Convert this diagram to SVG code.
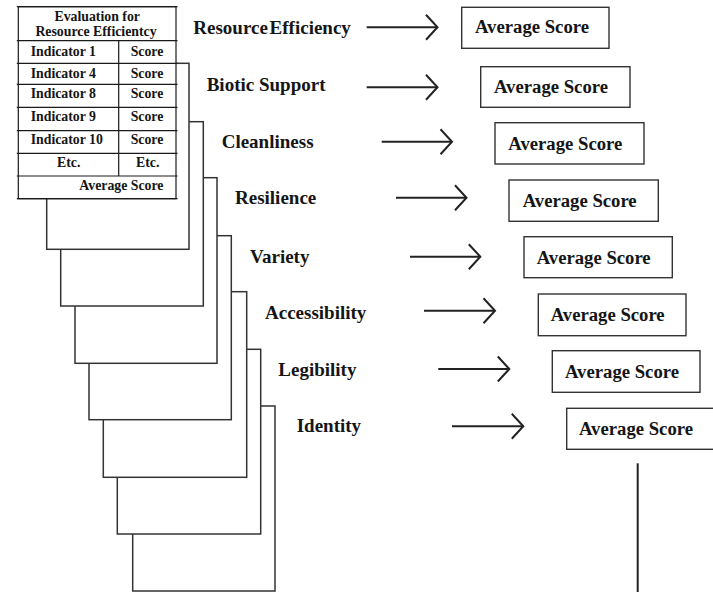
<svg xmlns="http://www.w3.org/2000/svg" width="713" height="592" viewBox="0 0 713 592">
  <style>
    text { font-family: "Liberation Serif", "Times New Roman", serif; font-weight: bold; fill: #151515; }
    .lbl { font-size: 19px; }
    .box-t { font-size: 18.7px; }
    .tt { font-size: 13.8px; }
    .page { fill: #ffffff; stroke: #333333; stroke-width: 1.5; }
    .box { fill: #ffffff; stroke: #333333; stroke-width: 1.4; }
    .grid { stroke: #1a1a1a; stroke-width: 1.2; fill: none; }
    .arrow { stroke: #222222; stroke-width: 2; fill: none; marker-end: url(#chev); }
  </style>
  <defs>
    <marker id="chev" viewBox="-14 -14 16 28" refX="0" refY="0" markerWidth="16" markerHeight="28" markerUnits="userSpaceOnUse" orient="auto">
      <path d="M-11.5,-12.5 L0,0 L-11.5,12.5" fill="none" stroke="#222222" stroke-width="2"/>
    </marker>
  </defs>

  <rect width="713" height="592" fill="#ffffff"/>

  <!-- stacked evaluation sheets, back to front -->
  <g id="sheets">
    <rect id="sheet-identity" class="page" x="132.7" y="406" width="142.3" height="185"/>
    <rect id="sheet-legibility" class="page" x="117.3" y="349.3" width="143.4" height="184.7"/>
    <rect id="sheet-accessibility" class="page" x="103.3" y="291.7" width="143.4" height="185.6"/>
    <rect id="sheet-variety" class="page" x="89" y="235.7" width="142.3" height="184"/>
    <rect id="sheet-resilience" class="page" x="75" y="177.7" width="142" height="185.6"/>
    <rect id="sheet-cleanliness" class="page" x="60.7" y="121.7" width="142.6" height="184.3"/>
    <rect id="sheet-biotic" class="page" x="46.7" y="63.3" width="142.3" height="186"/>
  </g>

  <!-- front sheet: evaluation table -->
  <g id="table">
    <rect x="18.3" y="6.7" width="157.7" height="192" fill="#ffffff" stroke="#1a1a1a" stroke-width="1.2"/>
    <path class="grid" d="M16.8,40.7H177.5 M16.8,63.3H177.5 M16.8,84.3H177.5 M16.8,107.3H177.5 M16.8,130.7H177.5 M16.8,153.3H177.5 M16.8,176H177.5 M16.8,198.7H177.5 M16.8,6.7H177.5 M118.7,40.7V176"/>
    <text class="tt" x="97.2" y="20.5" text-anchor="middle">Evaluation for</text>
    <text class="tt" x="96" y="36" text-anchor="middle">Resource Efficientcy</text>
    <text class="tt" x="30.7" y="56">Indicator 1</text>
    <text class="tt" x="147" y="56" text-anchor="middle">Score</text>
    <text class="tt" x="30.7" y="78.3">Indicator 4</text>
    <text class="tt" x="147" y="78.3" text-anchor="middle">Score</text>
    <text class="tt" x="30.7" y="98.3">Indicator 8</text>
    <text class="tt" x="147" y="98.3" text-anchor="middle">Score</text>
    <text class="tt" x="30.7" y="121">Indicator 9</text>
    <text class="tt" x="147" y="121" text-anchor="middle">Score</text>
    <text class="tt" x="30.7" y="144.3">Indicator 10</text>
    <text class="tt" x="147" y="144.3" text-anchor="middle">Score</text>
    <text class="tt" x="68.7" y="167.3" text-anchor="middle">Etc.</text>
    <text class="tt" x="147.7" y="167.3" text-anchor="middle">Etc.</text>
    <text class="tt" x="163.5" y="190" text-anchor="end">Average Score</text>
  </g>

  <!-- criterion labels -->
  <g id="label-resource"><text class="lbl" x="193.3" y="33.5" word-spacing="-3">Resource Efficiency</text></g>
  <g id="label-biotic"><text class="lbl" x="206.7" y="91">Biotic Support</text></g>
  <g id="label-cleanliness"><text class="lbl" x="221.7" y="147.7">Cleanliness</text></g>
  <g id="label-resilience"><text class="lbl" x="235" y="204">Resilience</text></g>
  <g id="label-variety"><text class="lbl" x="250" y="262.7">Variety</text></g>
  <g id="label-accessibility"><text class="lbl" x="265" y="319">Accessibility</text></g>
  <g id="label-legibility"><text class="lbl" x="278.3" y="376">Legibility</text></g>
  <g id="label-identity"><text class="lbl" x="296.7" y="432.3">Identity</text></g>

  <!-- average score boxes -->
  <g id="avg-resource"><rect class="box" x="461.7" y="7.3" width="147.3" height="41"/><text class="box-t" x="475" y="33.3">Average Score</text></g>
  <g id="avg-biotic"><rect class="box" x="480.7" y="66.7" width="149.3" height="40.6"/><text class="box-t" x="494" y="92.7">Average Score</text></g>
  <g id="avg-cleanliness"><rect class="box" x="495" y="122.7" width="149" height="41.3"/><text class="box-t" x="508.3" y="150">Average Score</text></g>
  <g id="avg-resilience"><rect class="box" x="509" y="180" width="149.3" height="41.3"/><text class="box-t" x="522.7" y="206.7">Average Score</text></g>
  <g id="avg-variety"><rect class="box" x="524" y="236.7" width="148.3" height="41"/><text class="box-t" x="536.7" y="264.3">Average Score</text></g>
  <g id="avg-accessibility"><rect class="box" x="538.3" y="294" width="147.7" height="41.7"/><text class="box-t" x="550.7" y="320.7">Average Score</text></g>
  <g id="avg-legibility"><rect class="box" x="552.3" y="350.7" width="147.7" height="41.6"/><text class="box-t" x="565" y="378.3">Average Score</text></g>
  <g id="avg-identity"><rect class="box" x="566.7" y="408.3" width="150" height="41"/><text class="box-t" x="579" y="435">Average Score</text></g>

  <!-- connectors -->
  <g id="connectors">
    <line class="arrow" x1="366.7" y1="27.3" x2="437.5" y2="27.3"/>
    <line class="arrow" x1="366.7" y1="87.3" x2="437.5" y2="87.3"/>
    <line class="arrow" x1="381.7" y1="141.7" x2="452" y2="141.7"/>
    <line class="arrow" x1="396" y1="197.7" x2="466.5" y2="197.7"/>
    <line class="arrow" x1="410" y1="256.7" x2="480.3" y2="256.7"/>
    <line class="arrow" x1="424" y1="310.7" x2="495" y2="310.7"/>
    <line class="arrow" x1="438.3" y1="369" x2="509.3" y2="369"/>
    <line class="arrow" x1="452" y1="426.3" x2="523.3" y2="426.3"/>
    <line x1="637.7" y1="463.3" x2="637.7" y2="592" stroke="#222222" stroke-width="2"/>
  </g>
</svg>
